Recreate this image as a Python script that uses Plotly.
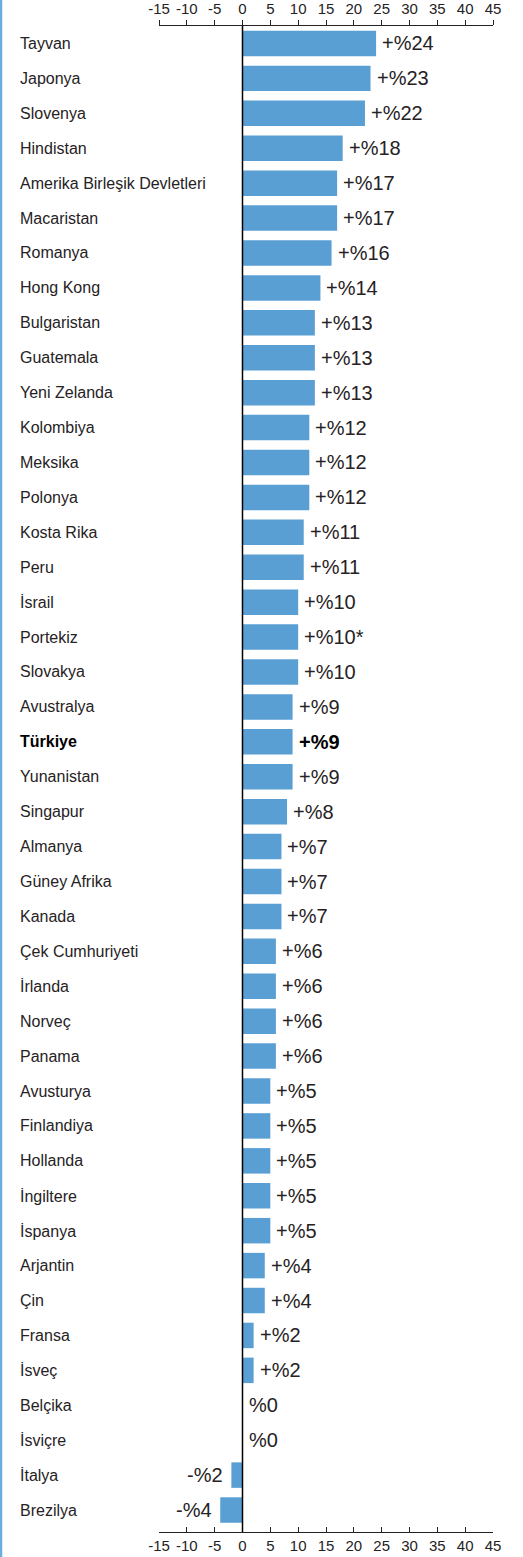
import plotly.graph_objects as go

countries = ["Tayvan", "Japonya", "Slovenya", "Hindistan", "Amerika Birleşik Devletleri",
             "Macaristan", "Romanya", "Hong Kong", "Bulgaristan", "Guatemala", "Yeni Zelanda",
             "Kolombiya", "Meksika", "Polonya", "Kosta Rika", "Peru", "İsrail", "Portekiz",
             "Slovakya", "Avustralya", "Türkiye", "Yunanistan", "Singapur", "Almanya",
             "Güney Afrika", "Kanada", "Çek Cumhuriyeti", "İrlanda", "Norveç", "Panama",
             "Avusturya", "Finlandiya", "Hollanda", "İngiltere", "İspanya", "Arjantin", "Çin",
             "Fransa", "İsveç", "Belçika", "İsviçre", "İtalya", "Brezilya"]
values = [24, 23, 22, 18, 17, 17, 16, 14, 13, 13, 13, 12, 12, 12, 11, 11, 10, 10, 10, 9, 9, 9,
          8, 7, 7, 7, 6, 6, 6, 6, 5, 5, 5, 5, 5, 4, 4, 2, 2, 0, 0, -2, -4]
value_labels = ["+%24", "+%23", "+%22", "+%18", "+%17", "+%17", "+%16", "+%14", "+%13", "+%13",
                "+%13", "+%12", "+%12", "+%12", "+%11", "+%11", "+%10", "+%10*", "+%10", "+%9",
                "+%9", "+%9", "+%8", "+%7", "+%7", "+%7", "+%6", "+%6", "+%6", "+%6", "+%5",
                "+%5", "+%5", "+%5", "+%5", "+%4", "+%4", "+%2", "+%2", "%0", "%0", "-%2", "-%4"]
highlight = "Türkiye"
tick_vals = [-15, -10, -5, 0, 5, 10, 15, 20, 25, 30, 35, 40, 45]
tick_text = ["-15", "-10", "-5", "0", "5", "10", "15", "20", "25", "30", "35", "40", "45"]

BAR = "#5a9fd4"
TXT = "#262224"
FONT = "Liberation Sans, Arial, sans-serif"

W, H = 523, 1557
ml, mr, mt, mb = 159, 30, 26, 25
pw = W - ml - mr
ph = H - mt - mb
n = len(countries)

fig = go.Figure()
fig.add_trace(go.Bar(x=values, y=countries, orientation="h", marker_color=BAR,
                     marker_line_width=0, width=0.73, hoverinfo="skip"))
fig.add_trace(go.Scatter(x=values, y=countries, xaxis="x2", mode="markers",
                         marker_opacity=0, showlegend=False, hoverinfo="skip"))

annotations = []
for c, v, lab in zip(countries, values, value_labels):
    bold = c == highlight
    annotations.append(dict(
        x=-(ml - 18) / pw, xref="paper", y=c, yref="y", text=f"<b>{c}</b>" if bold else c,
        xanchor="left", yanchor="middle", showarrow=False,
        font=dict(family=FONT, size=16, color="#000" if bold else TXT)))
    annotations.append(dict(
        x=v, xref="x", y=c, yref="y", text=f"<b>{lab}</b>" if bold else lab,
        xanchor="left" if v >= 0 else "right", xshift=4 if v >= 0 else -6,
        yanchor="middle", showarrow=False,
        font=dict(family=FONT, size=20, color="#000" if bold else TXT)))

axis_common = dict(range=[-15, 45], tickvals=tick_vals, ticktext=tick_text, showgrid=False,
                   zeroline=False, showline=True, linecolor=TXT, linewidth=1.2, ticklen=5,
                   tickcolor=TXT, tickwidth=1.2, automargin=False,
                   tickfont=dict(family=FONT, size=15, color=TXT))

fig.update_layout(
    width=W, height=H, margin=dict(l=ml, r=mr, t=mt, b=mb, pad=0, autoexpand=False),
    paper_bgcolor="white", plot_bgcolor="white", showlegend=False,
    xaxis=dict(**axis_common, anchor="free", position=0, side="bottom", ticks="inside"),
    xaxis2=dict(**axis_common, overlaying="x", anchor="y", side="top", ticks="outside"),
    yaxis=dict(type="category", categoryorder="array", categoryarray=countries,
               range=[n - 0.5, -0.5], autorange=False, showticklabels=False, showgrid=False,
               zeroline=False, showline=False, ticks="", domain=[0.003, 1], automargin=False),
    annotations=annotations,
    shapes=[
        dict(type="line", xref="x", yref="paper", x0=0, x1=0, y0=0, y1=1,
             line=dict(color="#000", width=1.5)),
        dict(type="line", xref="paper", yref="paper", x0=-(ml - 1) / pw, x1=-(ml - 1) / pw,
             y0=-mb / ph, y1=1 + mt / ph, line=dict(color="#6aaee0", width=2.5)),
    ],
)

fig.write_html("out.html", config={"displayModeBar": False},
               post_script="document.body.style.margin='0';")
